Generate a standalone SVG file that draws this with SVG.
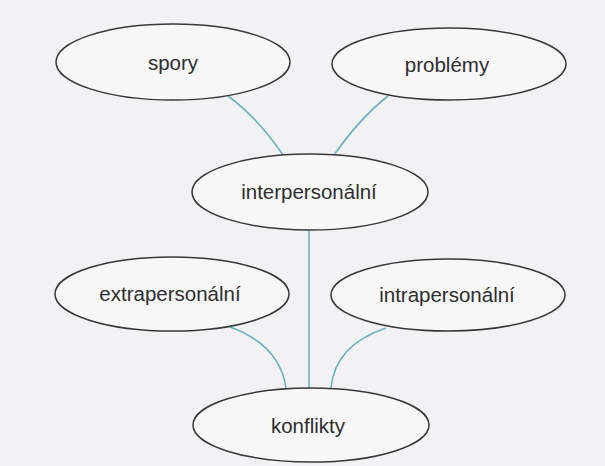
<svg xmlns="http://www.w3.org/2000/svg" width="605" height="466" viewBox="0 0 605 466">
<style>
.node ellipse{fill:#f7f7f8;stroke:#383838;stroke-width:1.5}
.node text{font-family:"Liberation Sans",Arial,sans-serif;font-size:20.5px;fill:#2e2e2e;text-anchor:middle}
.edge{fill:none;stroke:#6cb3bb;stroke-width:1.6}
</style>
<rect width="605" height="466" fill="#f2f2f5"/>
<g id="connectors">
<path class="edge" d="M228,96 Q258,118 283,155"/>
<path class="edge" d="M388,96 Q360,118 334,155"/>
<path class="edge" d="M309,229 L309,388"/>
<path class="edge" d="M230,327 Q280,345 286,388"/>
<path class="edge" d="M386,328 Q335,345 331,388"/>
</g>
<g id="spory" class="node"><ellipse cx="173" cy="62" rx="117" ry="38"/><text x="173" y="70">spory</text></g>
<g id="problemy" class="node"><ellipse cx="449" cy="64" rx="117" ry="36"/><text x="447" y="72">problémy</text></g>
<g id="interpersonalni" class="node"><ellipse cx="310" cy="192" rx="118" ry="38"/><text x="309" y="199">interpersonální</text></g>
<g id="extrapersonalni" class="node"><ellipse cx="172" cy="294" rx="117" ry="37"/><text x="170" y="301">extrapersonální</text></g>
<g id="intrapersonalni" class="node"><ellipse cx="448" cy="295" rx="117" ry="36"/><text x="447" y="302">intrapersonální</text></g>
<g id="konflikty" class="node"><ellipse cx="311" cy="425" rx="118" ry="37"/><text x="308" y="433">konflikty</text></g>
</svg>
